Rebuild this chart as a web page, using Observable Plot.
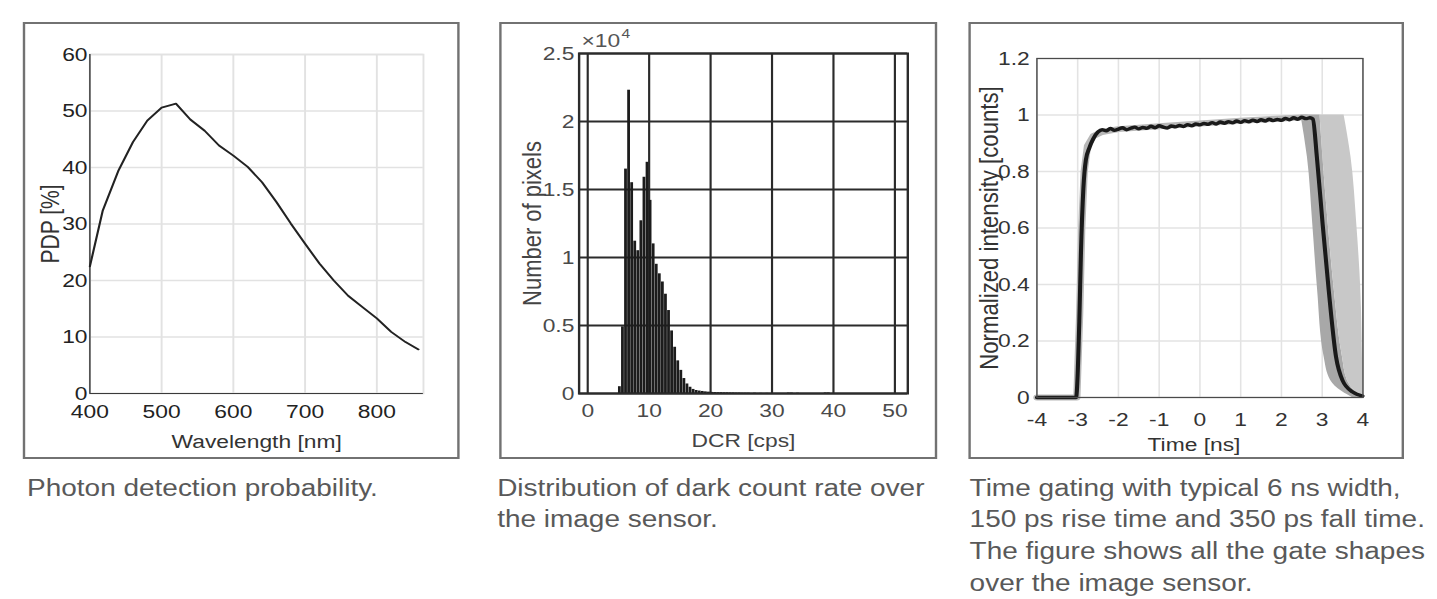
<!DOCTYPE html>
<html>
<head>
<meta charset="utf-8">
<script src="https://cdn.jsdelivr.net/npm/d3@7"></script>
<script src="https://cdn.jsdelivr.net/npm/@observablehq/plot@0.6"></script>
<style>
  html, body { margin: 0; padding: 0; background: #fff; width: 1437px; height: 599px; overflow: hidden; }
  #stage { position: absolute; left: 0; top: 0; width: 1198px; height: 599px; transform: scaleX(1.2); transform-origin: 0 0; font-family: "Liberation Sans", Arial, Helvetica, sans-serif; }
  .panel { position: absolute; top: 22px; height: 437px; }
  .panel svg { position: absolute; left: 0; top: 0; }
  .frame { position: absolute; left: 0; top: 0; right: 0; bottom: 0; border-style: solid; border-color: #727272; border-width: 2.5px 2.1px; box-sizing: border-box; pointer-events: none; z-index: 2; }
  .caption { position: absolute; top: 472.8px; font-size: 23.3px; line-height: 31.6px; color: #595959; white-space: nowrap; }
  .exp { position: absolute; left: 484.6px; top: 29.5px; font-size: 19px; line-height: normal; color: #555; white-space: nowrap; }
  .exp span { position: relative; top: -9px; font-size: 13px; margin-left: 1px; }
</style>
</head>
<body>
<div id="stage">
  <div class="panel" id="p1" style="left:19.2px;width:364.2px"><div class="frame"></div></div>
  <div class="panel" id="p2" style="left:415.8px;width:365px"><div class="frame"></div></div>
  <div class="panel" id="p3" style="left:806.7px;width:363.3px"><div class="frame"></div></div>
  <div class="exp">×10<span>4</span></div>
  <div class="caption" style="left:22.6px">Photon detection probability.</div>
  <div class="caption" style="left:414.3px">Distribution of dark count rate over<br>the image sensor.</div>
  <div class="caption" style="left:808px">Time gating with typical 6 ns width,<br>150 ps rise time and 350 ps fall time.<br>The figure shows all the gate shapes<br>over the image sensor.</div>
</div>
<script>
// ---------- Panel 1: photon detection probability ----------
const wavelengthNm = [400, 418, 440, 460, 480, 500, 520, 540, 560, 580, 600, 620, 640, 660, 680, 700, 720, 740, 760, 780, 800, 820, 840, 858];
const pdpPercent   = [22.5, 32.4, 39.5, 44.5, 48.3, 50.6, 51.3, 48.5, 46.5, 43.9, 42.1, 40.1, 37.4, 33.9, 30.1, 26.5, 23.0, 20.0, 17.3, 15.3, 13.3, 10.9, 9.1, 7.8];
const wavelengthTicks = [400, 500, 600, 700, 800];
const pdpTicks = [0, 10, 20, 30, 40, 50, 60];

// ---------- Panel 2: dark count rate histogram ----------
const dcrBinStart = [5.0, 5.5, 6.0, 6.5, 7.0, 7.5, 8.0, 8.5, 9.0, 9.5, 10.0, 10.5, 11.0, 11.5, 12.0, 12.5, 13.0, 13.5, 14.0, 14.5,
                     15.0, 15.5, 16.0, 16.5, 17.0, 17.5, 18.0, 18.5, 19.0, 19.5, 20.0, 20.5, 21.0, 21.5, 22.0, 22.5, 23.0, 23.5,
                     24.0, 24.5, 25.0, 25.5, 26.0, 27.0, 28.0, 29.0, 32.5, 33.0, 34.0, 38.5, 39.0];
const pixelCount1e4 = [0.05, 0.49, 1.65, 2.23, 1.55, 1.12, 1.05, 1.27, 1.59, 1.70, 1.42, 1.10, 0.95, 0.88, 0.82, 0.73, 0.61, 0.46, 0.34, 0.24,
                       0.17, 0.11, 0.07, 0.046, 0.03, 0.022, 0.018, 0.015, 0.012, 0.010, 0.008, 0.007, 0.006, 0.006, 0.005, 0.005, 0.004, 0.004,
                       0.003, 0.003, 0.002, 0.002, 0.002, 0.002, 0.001, 0.001, 0.003, 0.003, 0.002, 0.004, 0.004];
const dcrBinWidth = 0.5;
const dcrTicks = [0, 10, 20, 30, 40, 50];
const countTicks = [0, 0.5, 1, 1.5, 2, 2.5];

// ---------- Panel 3: time gating ----------
const gateTime = [-4, -3.04, -2.96, -2.92, -2.86, -2.80, -2.71, -2.62,
  -2.5, -2.4, -2.3, -2.2, -2.1, -2.0, -1.9, -1.8, -1.7, -1.6, -1.5, -1.4, -1.3, -1.2, -1.1, -1.0, -0.9, -0.8, -0.7, -0.6,
  -0.5, -0.4, -0.3, -0.2, -0.1, 0.0, 0.1, 0.2, 0.3, 0.4, 0.5, 0.6, 0.7, 0.8, 0.9, 1.0, 1.1, 1.2, 1.3, 1.4, 1.5, 1.6, 1.7,
  1.8, 1.9, 2.0, 2.1, 2.2, 2.3, 2.4, 2.5, 2.6, 2.7,
  2.77, 2.87, 3.01, 3.16, 3.34, 3.5, 3.75, 3.99];
const gateIntensity = [0, 0, 0.27, 0.51, 0.74, 0.84, 0.885, 0.915,
  0.940, 0.948, 0.944, 0.952, 0.946, 0.950, 0.955, 0.948, 0.953, 0.957, 0.951, 0.956, 0.953, 0.960, 0.955, 0.962, 0.957, 0.954, 0.961, 0.958,
  0.963, 0.959, 0.966, 0.962, 0.968, 0.965, 0.970, 0.967, 0.973, 0.968, 0.975, 0.971, 0.976, 0.972, 0.979, 0.974, 0.980, 0.976, 0.982, 0.977, 0.983, 0.979, 0.985,
  0.980, 0.984, 0.981, 0.988, 0.983, 0.990, 0.985, 0.992, 0.987, 0.990,
  0.986, 0.85, 0.615, 0.38, 0.143, 0.06, 0.019, 0.005];
const haloTime      = [-4, -3.02, -2.95, -2.9, -2.84, -2.76, -2.62, -2.4, -2.0, -1.0, 0, 1.0, 2.0, 2.6];
const haloIntensity = [0, 0, 0.3, 0.6, 0.8, 0.89, 0.925, 0.94, 0.95, 0.96, 0.97, 0.98, 0.988, 0.992];
const fallLevel = [1.0, 0.85, 0.615, 0.38, 0.143, 0.06, 0.02, 0];
const fallEarly = [2.48, 2.64, 2.77, 2.89, 3.05, 3.21, 3.5, 3.74];
const fallMid   = [2.95, 3.02, 3.15, 3.3, 3.5, 3.62, 3.8, 3.9];
const fallLate  = [3.54, 3.71, 3.85, 3.95, 3.99, 4.0, 4.0, 4.0];
const timeTicks = [-4, -3, -2, -1, 0, 1, 2, 3, 4];
const intensityTicks = [0, 0.2, 0.4, 0.6, 0.8, 1, 1.2];

// ---------- helpers ----------
const font = '"Liberation Sans", Arial, Helvetica, sans-serif';
const fmt = d => String(d);
function yLabel(text, offset, size, fill) {
  return Plot.text([text], {frameAnchor: "left", rotate: -90, textAnchor: "middle", lineAnchor: "top", dx: -offset, fontSize: size, fill});
}
function xLabel(text, offset, size, fill, dx = 0) {
  return Plot.text([text], {frameAnchor: "bottom", textAnchor: "middle", lineAnchor: "top", dy: offset, dx, fontSize: size, fill});
}
function style(color) {
  return {fontFamily: font, fontSize: "19px", color, background: "transparent", overflow: "visible"};
}

// ---------- Panel 1 ----------
const pdpData = wavelengthNm.map((w, i) => ({w, p: pdpPercent[i]}));
const plot1 = Plot.plot({
  width: 364.2, height: 437,
  marginLeft: 55.4, marginRight: 30.8, marginTop: 32, marginBottom: 66,
  style: style("#222"),
  x: {domain: [400, 865], ticks: wavelengthTicks, tickSize: 0, tickPadding: 11, tickFormat: fmt, label: null},
  y: {domain: [0, 60], ticks: pdpTicks, tickSize: 0, tickPadding: 2, tickFormat: fmt, label: null},
  marks: [
    Plot.gridX(wavelengthTicks, {stroke: "#e2e2e2", strokeOpacity: 1, strokeWidth: 1.6}),
    Plot.gridY(pdpTicks, {stroke: "#e2e2e2", strokeOpacity: 1, strokeWidth: 1.6}),
    Plot.frame({stroke: "#e2e2e2", strokeWidth: 1.6}),
    Plot.ruleX([400], {stroke: "#3a3a3a", strokeWidth: 1.2}),
    Plot.ruleY([0], {stroke: "#3a3a3a", strokeWidth: 1.2}),
    Plot.line(pdpData, {x: "w", y: "p", stroke: "#222", strokeWidth: 1.8}),
    yLabel("PDP [%]", 40.7, 21, "#333"),
    xLabel("Wavelength [nm]", 41, 19, "#333")
  ]
});
document.getElementById("p1").appendChild(plot1);

// ---------- Panel 2 ----------
const bins = dcrBinStart.map((s, i) => ({x1: s, x2: s + dcrBinWidth, n: pixelCount1e4[i]}));
const plot2 = Plot.plot({
  width: 365, height: 437,
  marginLeft: 66.1, marginRight: 25, marginTop: 31, marginBottom: 66,
  style: style("#4a4a4a"),
  x: {domain: [-1.4, 52.1], ticks: dcrTicks, tickSize: 0, tickPadding: 10, tickFormat: fmt, label: null},
  y: {domain: [0, 2.5], ticks: countTicks, tickSize: 0, tickPadding: 4, tickFormat: fmt, label: null},
  marks: [
    Plot.gridX(dcrTicks, {stroke: "#2b2b2b", strokeOpacity: 1, strokeWidth: 1.8}),
    Plot.gridY(countTicks, {stroke: "#2b2b2b", strokeOpacity: 1, strokeWidth: 1.8}),
    Plot.rectY(bins, {x1: "x1", x2: "x2", y: "n", fill: "#1c1c1c", insetLeft: 0.12, insetRight: 0.12}),
    Plot.frame({stroke: "#2b2b2b", strokeWidth: 2}),
    yLabel("Number of pixels", 47.2, 22, "#444"),
    xLabel("DCR [cps]", 40.3, 19, "#444")
  ]
});
document.getElementById("p2").appendChild(plot2);

// ---------- Panel 3 ----------
const gate = gateTime.map((t, i) => ({t, v: gateIntensity[i]}));
const halo = haloTime.map((t, i) => ({t, v: haloIntensity[i]}));
const plot3 = Plot.plot({
  width: 363.3, height: 437,
  marginLeft: 56.6, marginRight: 35, marginTop: 36, marginBottom: 62,
  style: style("#333"),
  x: {domain: [-4, 4], ticks: timeTicks, tickSize: 0, tickPadding: 15, tickFormat: fmt, label: null},
  y: {domain: [0, 1.2], ticks: intensityTicks, tickSize: 0, tickPadding: 6, tickFormat: fmt, label: null},
  marks: [
    Plot.gridX(timeTicks, {stroke: "#e3e3e3", strokeOpacity: 1, strokeWidth: 1.3}),
    Plot.gridY(intensityTicks, {stroke: "#e3e3e3", strokeOpacity: 1, strokeWidth: 1.3}),
    Plot.areaX(fallLevel, {y: fallLevel, x1: fallEarly, x2: fallMid, fill: "#a8a8a8", curve: "monotone-y"}),
    Plot.areaX(fallLevel, {y: fallLevel, x1: fallMid, x2: fallLate, fill: "#c8c8c8", curve: "monotone-y"}),
    Plot.line(halo, {x: "t", y: "v", stroke: "#b8b8b8", strokeWidth: 6, strokeLinejoin: "round"}),
    Plot.line(gate, {x: "t", y: "v", stroke: "#1a1a1a", strokeWidth: 3.4, strokeLinejoin: "round", curve: "monotone-x"}),
    Plot.frame({stroke: "#4a4a4a", strokeWidth: 1.2}),
    yLabel("Normalized intensity [counts]", 48, 22.2, "#333"),
    xLabel("Time [ns]", 39.7, 19, "#333", -5)
  ]
});
document.getElementById("p3").appendChild(plot3);
</script>
</body>
</html>
